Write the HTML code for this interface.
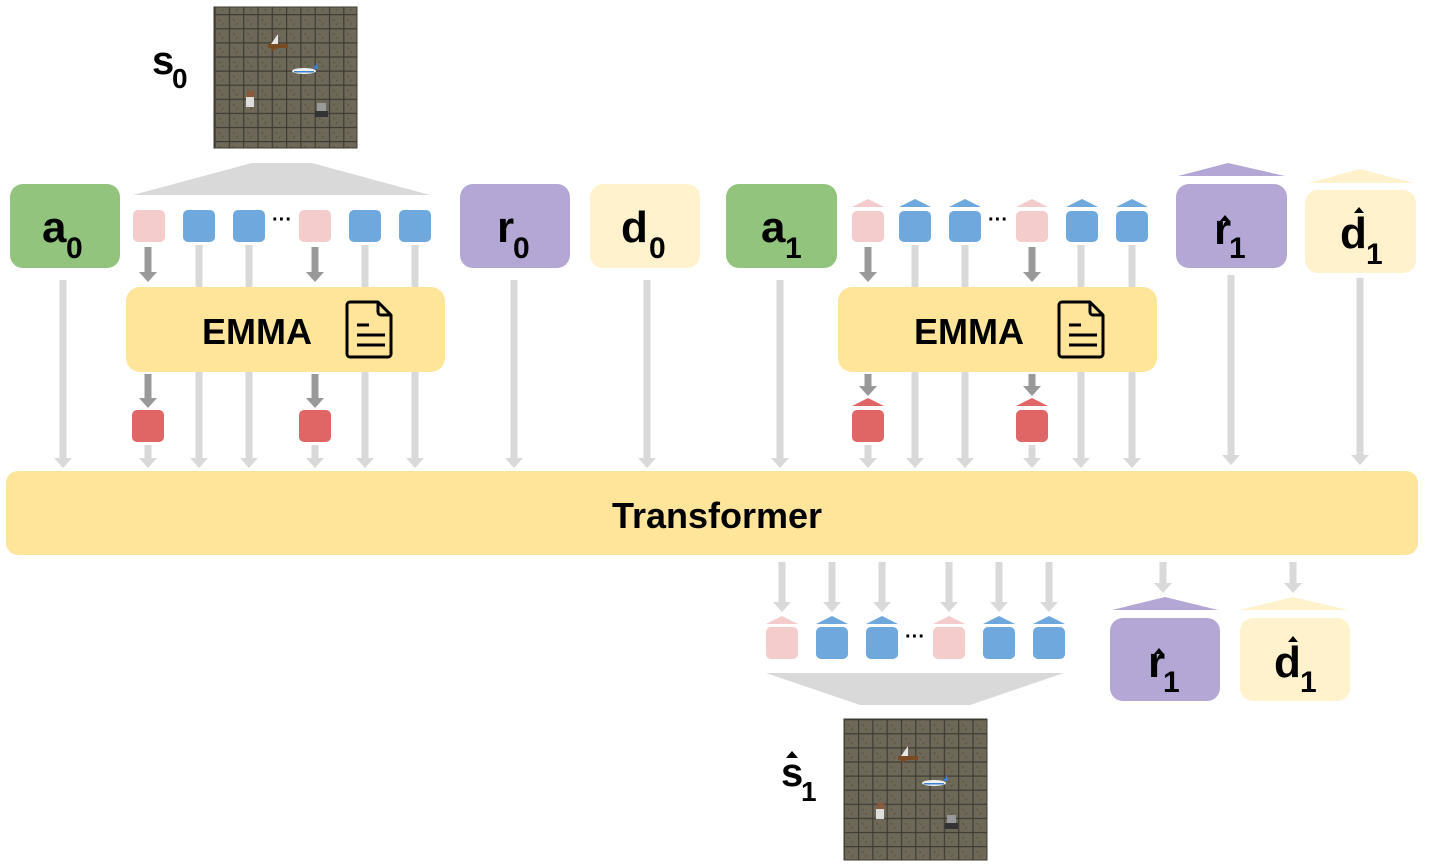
<!DOCTYPE html>
<html><head><meta charset="utf-8"><style>
html,body{margin:0;padding:0;background:#fff;}
svg{display:block;}
text{font-family:"Liberation Sans",sans-serif;font-weight:bold;fill:#000;}
</style></head><body>
<svg id="s" width="1442" height="864" viewBox="0 0 1442 864" xmlns="http://www.w3.org/2000/svg">
<defs>
<pattern id="tile" width="14.3" height="14.1" patternUnits="userSpaceOnUse">
<rect width="14.3" height="14.1" fill="#6e6858"/>
<rect width="14.3" height="1.2" fill="#3e3b33"/>
<rect width="1.2" height="14.1" fill="#3e3b33"/>
<path d="M4 5 l2 2 M9 9 l-2 2" stroke="#56513f" stroke-width="1"/>
</pattern>
</defs>
<!-- top trapezoid -->
<polygon points="252,163 312,163 430,195 133,195" fill="#d9d9d9"/>
<g id="g"></g>
<!-- Transformer -->
<rect x="6" y="471" width="1412" height="84" rx="12" fill="#ffe599"/>
<text x="717" y="528" font-size="36" text-anchor="middle">Transformer</text>
<!-- EMMA boxes -->
<rect x="126" y="287" width="319" height="85" rx="14" fill="#ffe599"/>
<text x="257" y="344" font-size="36" text-anchor="middle">EMMA</text>
<rect x="838" y="287" width="319" height="85" rx="14" fill="#ffe599"/>
<text x="969" y="344" font-size="36" text-anchor="middle">EMMA</text>
<g fill="none" stroke="#000" stroke-width="3" stroke-linejoin="round">
<path d="M350,302 h28 l13,13 v39 a3,3 0 0 1 -3,3 h-38 a3,3 0 0 1 -3,-3 v-49 a3,3 0 0 1 3,-3 z M378,302 v10 a3,3 0 0 0 3,3 h10"/>
<path d="M357,325 h12 M357,335 h28 M357,345 h28"/>
<path d="M1062,302 h28 l13,13 v39 a3,3 0 0 1 -3,3 h-38 a3,3 0 0 1 -3,-3 v-49 a3,3 0 0 1 3,-3 z M1090,302 v10 a3,3 0 0 0 3,3 h10"/>
<path d="M1069,325 h12 M1069,335 h28 M1069,345 h28"/>
</g>
<!-- big boxes -->
<rect x="10" y="184" width="110" height="84" rx="13" fill="#93c47d"/>
<text x="42" y="242" font-size="44">a</text><text x="66" y="258" font-size="30">0</text>
<rect x="460" y="184" width="110" height="84" rx="13" fill="#b4a7d6"/>
<text x="497" y="242" font-size="44">r</text><text x="513" y="258" font-size="30">0</text>
<rect x="590" y="184" width="110" height="84" rx="13" fill="#fff2cc"/>
<text x="621" y="242" font-size="44">d</text><text x="649" y="258" font-size="30">0</text>
<rect x="726" y="184" width="111" height="84" rx="13" fill="#93c47d"/>
<text x="761" y="242" font-size="44">a</text><text x="785" y="258" font-size="30">1</text>
<polygon points="1228,163 1285,176 1178,176" fill="#b4a7d6"/>
<rect x="1176" y="184" width="111" height="84" rx="13" fill="#b4a7d6"/>
<text x="1214" y="244" font-size="44">r</text><text x="1229" y="258" font-size="30">1</text>
<polygon points="1220,221 1225,215 1230,221" fill="#000"/>
<polygon points="1360,169 1414,183 1308,183" fill="#fff2cc"/>
<rect x="1305" y="190" width="111" height="83" rx="13" fill="#fff2cc"/>
<text x="1340" y="248" font-size="44">d</text><text x="1366" y="264" font-size="30">1</text>
<polygon points="1354,213 1359,207 1364,213" fill="#000"/>
<!-- bottom -->
<polygon points="766,673 1064,673 970,705 860,705" fill="#d9d9d9"/>
<polygon points="1165,597 1218,610 1112,610" fill="#b4a7d6"/>
<rect x="1110" y="618" width="110" height="83" rx="13" fill="#b4a7d6"/>
<text x="1148" y="677" font-size="44">r</text><text x="1163" y="692" font-size="30">1</text>
<polygon points="1154,654 1159,648 1164,654" fill="#000"/>
<polygon points="1293,597 1348,610 1240,610" fill="#fff2cc"/>
<rect x="1240" y="618" width="110" height="83" rx="13" fill="#fff2cc"/>
<text x="1274" y="677" font-size="44">d</text><text x="1300" y="692" font-size="30">1</text>
<polygon points="1288,642 1293,636 1298,642" fill="#000"/>
<!-- labels -->
<text x="152" y="74" font-size="40">s</text><text x="172" y="88" font-size="28">0</text>
<text x="781" y="786" font-size="40">s</text><text x="801" y="801" font-size="28">1</text>
<polygon points="786,758 792,751 798,758" fill="#000"/>
<!-- game images -->
<g id="img0"></g>
</svg>
<script>
const NS="http://www.w3.org/2000/svg";
const g=document.getElementById('g');
function el(t,a,p){const e=document.createElementNS(NS,t);for(const k in a)e.setAttribute(k,a[k]);(p||g).appendChild(e);return e;}
function line(x,y1,y2,c,w,hw,hh){el('rect',{x:x-w/2,y:y1,width:w,height:y2-y1-hh,fill:c});el('polygon',{points:`${x-hw},${y2-hh} ${x+hw},${y2-hh} ${x},${y2}`,fill:c});}
const L='#d9d9d9',D='#999',P='#f4cccc',B='#6fa8dc',R='#e06666';
// left tokens
const lx=[133,183,233,299,349,399],lc=[P,B,B,P,B,B];
lx.forEach((x,i)=>{el('rect',{x:x,y:210,width:32,height:32,rx:5,fill:lc[i]});});
el('text',{x:282,y:226,'font-size':20,'text-anchor':'middle'}).textContent='···';
[199,249,365,415].forEach(x=>line(x,245,468,L,7,9,10));
[148,315].forEach(x=>{line(x,247,282,D,7,9,10);el('rect',{x:x-16,y:410,width:32,height:32,rx:5,fill:R});line(x,374,408,D,7,9,10);line(x,445,468,L,7,9,10);});
line(63,280,468,L,7,9,10);line(514,280,468,L,7,9,10);line(647,280,468,L,7,9,10);line(780,280,468,L,7,9,10);
// right tokens
const rx=[852,899,949,1016,1066,1116];
rx.forEach((x,i)=>{el('polygon',{points:`${x},207 ${x+32},207 ${x+16},199`,fill:lc[i]});el('rect',{x:x,y:211,width:32,height:31,rx:5,fill:lc[i]});});
el('text',{x:998,y:226,'font-size':20,'text-anchor':'middle'}).textContent='···';
[915,965,1081,1132].forEach(x=>line(x,245,468,L,7,9,10));
[868,1032].forEach(x=>{line(x,247,282,D,7,9,10);el('polygon',{points:`${x-16},406 ${x+16},406 ${x},398`,fill:R});el('rect',{x:x-16,y:410,width:32,height:32,rx:5,fill:R});line(x,374,396,D,7,9,10);line(x,445,468,L,7,9,10);});
line(1231,275,465,L,7,9,10);line(1360,278,465,L,7,9,10);
// bottom tokens
const bx=[766,816,866,933,983,1033];
bx.forEach((x,i)=>{line(x+16,562,612,L,7,9,10);el('polygon',{points:`${x},624 ${x+32},624 ${x+16},616`,fill:lc[i]});el('rect',{x:x,y:627,width:32,height:32,rx:5,fill:lc[i]});});
el('text',{x:915,y:643,'font-size':20,'text-anchor':'middle'}).textContent='···';
line(1163,562,593,L,7,9,10);line(1293,562,593,L,7,9,10);
// game images
function game(x0,y0){
 el('rect',{x:x0,y:y0,width:143,height:141,fill:'url(#tile)'});
 el('rect',{x:x0,y:y0,width:143,height:141,fill:'none',stroke:'#3e3b33','stroke-width':1});
 // boat
 el('polygon',{points:`${x0+56},${y0+38} ${x0+64},${y0+38} ${x0+60},${y0+44} ${x0+58},${y0+44}`,fill:'#7a4a22'});
 el('rect',{x:x0+54,y:y0+37,width:20,height:4,fill:'#7a4a22'});
 el('polygon',{points:`${x0+64},${y0+27} ${x0+64},${y0+37} ${x0+57},${y0+37}`,fill:'#e8e8e8'});
 // plane
 el('ellipse',{cx:x0+90,cy:y0+64,rx:12,ry:3,fill:'#f0f0f0'});
 el('rect',{x:x0+80,y:y0+64,width:20,height:1.5,fill:'#3b7fd0'});
 el('polygon',{points:`${x0+99},${y0+62} ${x0+103},${y0+56} ${x0+104},${y0+62}`,fill:'#3b7fd0'});
 // person
 el('rect',{x:x0+33,y:y0+84,width:7,height:6,fill:'#8a5a3a'});
 el('rect',{x:x0+32,y:y0+90,width:8,height:10,fill:'#ddd'});
 // knight
 el('rect',{x:x0+103,y:y0+96,width:9,height:14,fill:'#999'});
 el('rect',{x:x0+101,y:y0+104,width:13,height:6,fill:'#333'});
}
game(214,7);game(844,719);
</script>
</body></html>
